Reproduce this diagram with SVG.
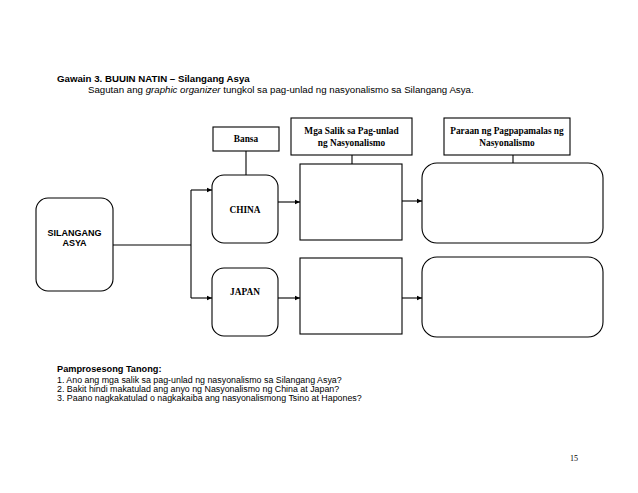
<svg xmlns="http://www.w3.org/2000/svg" width="638" height="493" viewBox="0 0 638 493">
<defs>
<marker id="ah" markerWidth="6" markerHeight="6" refX="5" refY="3" orient="auto" markerUnits="userSpaceOnUse">
<path d="M0,0.8 L5,3 L0,5.2 Z" fill="#000"/>
</marker>
<style>
.box{fill:#fff;stroke:#000;stroke-width:1.1}
.ln{fill:none;stroke:#000;stroke-width:1.1}
.sans{font-family:"Liberation Sans",Arial,sans-serif;fill:#000}
.serif{font-family:"Liberation Serif","Times New Roman",serif;fill:#000;font-weight:bold;font-size:9.3px}
</style>
</defs>
<rect width="638" height="493" fill="#fff"/>
<text class="sans" x="57" y="82" font-size="9.7" font-weight="bold">Gawain 3. BUUIN NATIN – Silangang Asya</text>
<text class="sans" x="88" y="93" font-size="9.7">Sagutan ang <tspan font-style="italic">graphic organizer</tspan> tungkol sa pag-unlad ng nasyonalismo sa Silangang Asya.</text>

<g id="connectors">
<line class="ln" x1="246" y1="151" x2="246" y2="175"/>
<line class="ln" x1="352" y1="155" x2="352" y2="164"/>
<line class="ln" x1="513" y1="155" x2="513" y2="163"/>
<line class="ln" x1="113" y1="245" x2="191" y2="245"/>
<line class="ln" x1="191" y1="190" x2="191" y2="298"/>
<line class="ln" x1="191" y1="190" x2="212" y2="190" marker-end="url(#ah)"/>
<line class="ln" x1="191" y1="298" x2="212" y2="298" marker-end="url(#ah)"/>
<line class="ln" x1="278" y1="202" x2="300" y2="202" marker-end="url(#ah)"/>
<line class="ln" x1="278" y1="298" x2="300" y2="298" marker-end="url(#ah)"/>
<line class="ln" x1="402" y1="201" x2="422" y2="201" marker-end="url(#ah)"/>
<line class="ln" x1="402" y1="298" x2="422" y2="298" marker-end="url(#ah)"/>
</g>

<g id="bansa">
<rect class="box" x="213" y="127" width="66" height="24"/>
<text class="serif" x="246" y="141.5" text-anchor="middle">Bansa</text>
</g>
<g id="salik-header">
<rect class="box" x="291" y="118" width="121" height="37"/>
<text class="serif" x="351.5" y="134" text-anchor="middle">Mga Salik sa Pag-unlad</text>
<text class="serif" x="351.5" y="146" text-anchor="middle">ng Nasyonalismo</text>
</g>
<g id="paraan-header">
<rect class="box" x="444" y="118" width="126" height="37"/>
<text class="serif" x="507" y="134" text-anchor="middle">Paraan ng Pagpapamalas ng</text>
<text class="serif" x="507" y="146" text-anchor="middle">Nasyonalismo</text>
</g>

<g id="silangang-asya">
<rect class="box" x="36" y="198" width="77" height="93" rx="12"/>
<text class="sans" x="74.5" y="236" font-size="9" font-weight="bold" text-anchor="middle">SILANGANG</text>
<text class="sans" x="74.5" y="246" font-size="9" font-weight="bold" text-anchor="middle">ASYA</text>
</g>
<g id="china">
<rect class="box" x="212" y="175" width="66" height="68" rx="12"/>
<text class="serif" x="245" y="213" text-anchor="middle">CHINA</text>
</g>
<g id="japan">
<rect class="box" x="212" y="268" width="66" height="68" rx="12"/>
<text class="serif" x="245" y="295" text-anchor="middle">JAPAN</text>
</g>
<g id="china-salik">
<rect class="box" x="300" y="164" width="102" height="76"/>
</g>
<g id="japan-salik">
<rect class="box" x="300" y="258" width="102" height="76"/>
</g>
<g id="china-paraan">
<rect class="box" x="422" y="163" width="181" height="80" rx="15"/>
</g>
<g id="japan-paraan">
<rect class="box" x="422" y="257" width="181" height="80" rx="15"/>
</g>

<text class="sans" x="57" y="372" font-size="9.2" font-weight="bold">Pamprosesong Tanong:</text>
<text class="sans" x="57" y="383" font-size="8.85">1. Ano ang mga salik sa pag-unlad ng  nasyonalismo sa Silangang Asya?</text>
<text class="sans" x="57" y="392" font-size="8.85">2. Bakit hindi makatulad ang anyo ng Nasyonalismo ng China at Japan?</text>
<text class="sans" x="57" y="401" font-size="8.85">3. Paano nagkakatulad o nagkakaiba ang nasyonalismong Tsino at Hapones?</text>

<text x="570" y="461" font-family="'Liberation Serif','Times New Roman',serif" font-size="8" fill="#000">15</text>
</svg>
